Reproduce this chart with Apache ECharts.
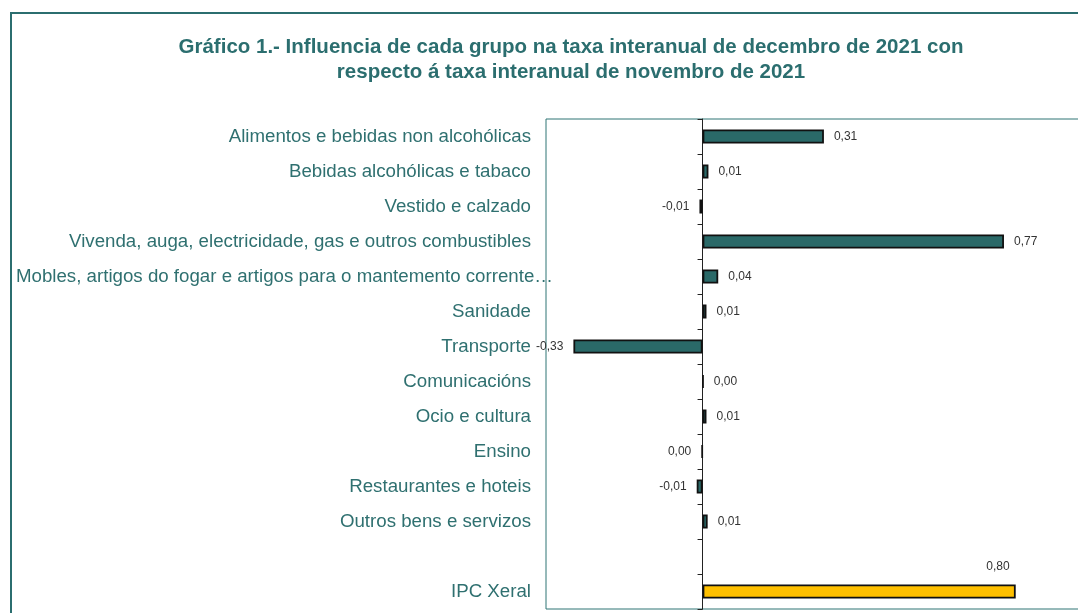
<!DOCTYPE html>
<html>
<head>
<meta charset="utf-8">
<script src="https://cdn.jsdelivr.net/npm/echarts@6/dist/echarts.min.js"></script>
<style>
  html, body { margin: 0; padding: 0; background: #fff; overflow: hidden; }
  #chart { width: 1100px; height: 613px; }
</style>
</head>
<body>
<div id="chart"></div>
<script>
const groups = [
  'Alimentos e bebidas non alcohólicas',
  'Bebidas alcohólicas e tabaco',
  'Vestido e calzado',
  'Vivenda, auga, electricidade, gas e outros combustibles',
  'Mobles, artigos do fogar e artigos para o mantemento corrente…',
  'Sanidade',
  'Transporte',
  'Comunicacións',
  'Ocio e cultura',
  'Ensino',
  'Restaurantes e hoteis',
  'Outros bens e servizos'
];
const groupValues = [0.31, 0.015, -0.008, 0.77, 0.04, 0.01, -0.33, 0.002, 0.01, -0.002, -0.015, 0.013];
const totalLabel = 'IPC Xeral';
const totalValue = 0.80;

const teal = '#2b6e6f';
const barTeal = '#2a6968';

const fmt = v => (Math.abs(v) < 0.005 ? 0 : v).toFixed(2).replace('.', ',');

// long label overflows past the others, as in the original
const categories = groups.map(g => g.startsWith('Mobles')
  ? { value: g, textStyle: { padding: [0, -22, 0, 0] } }
  : g).concat(['', totalLabel]);

const seriesData = groupValues.map(v => ({
  value: v,
  label: { position: v < 0 ? 'left' : 'right' }
})).concat([
  '-',
  {
    value: totalValue,
    itemStyle: { color: '#ffc000' },
    label: { position: ['100%', 0], offset: [-6, -12], align: 'right', verticalAlign: 'bottom' }
  }
]);

const chart = echarts.init(document.getElementById('chart'));

chart.setOption({
  backgroundColor: '#fff',
  animation: false,
  title: {
    text: 'Gráfico 1.- Influencia de cada grupo na taxa interanual de decembro de 2021 con\nrespecto á taxa interanual de novembro de 2021',
    left: 571,
    top: 35,
    padding: 0,
    textAlign: 'center',
    textStyle: {
      color: teal,
      fontSize: 20.5,
      lineHeight: 25,
      fontWeight: 'bold',
      fontFamily: 'Liberation Sans'
    }
  },
  graphic: [{
    type: 'rect',
    z: -1,
    shape: { x: 11, y: 13, width: 1200, height: 800 },
    style: { fill: 'none', stroke: teal, lineWidth: 2 }
  }],
  grid: {
    left: 546,
    top: 119,
    right: 6,
    height: 490,
    outerBoundsMode: 'none',
    containLabel: false,
    show: true,
    borderColor: '#2f7475',
    borderWidth: 1
  },
  xAxis: {
    type: 'value',
    min: -0.4,
    max: 1.0,
    axisLine: { show: false },
    axisTick: { show: false },
    axisLabel: { show: false },
    splitLine: { show: false }
  },
  yAxis: {
    type: 'category',
    inverse: true,
    data: categories,
    axisLine: { onZero: true, lineStyle: { color: '#222', width: 1 } },
    axisTick: { show: true, length: 5, lineStyle: { color: '#222' } },
    axisLabel: {
      interval: 0,
      margin: 15,
      color: '#2f7070',
      fontSize: 18.7,
      fontFamily: 'Liberation Sans'
    }
  },
  series: [{
    type: 'bar',
    data: seriesData,
    barWidth: 14,
    itemStyle: { color: barTeal, borderColor: '#111', borderWidth: 1.8 },
    label: {
      show: true,
      distance: 10,
      color: '#333',
      fontSize: 12,
      fontFamily: 'Liberation Sans',
      formatter: p => fmt(p.value)
    }
  }]
});
</script>
</body>
</html>
